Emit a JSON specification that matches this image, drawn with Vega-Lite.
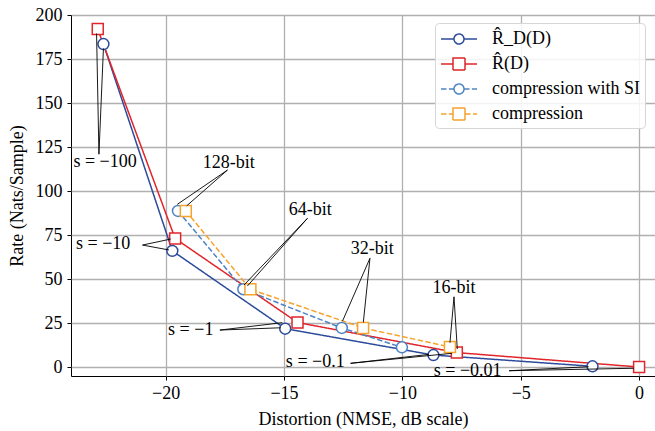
{
  "$schema": "https://vega.github.io/schema/vega-lite/v6.json",
  "width": 584,
  "height": 361,
  "autosize": {"type": "none"},
  "padding": {"left": 71, "top": 15, "right": 0, "bottom": 55},
  "background": "white",
  "datasets": {
    "series": [
      {"series": "R\u0302_D(D)", "marker": "circle", "dash": "solid", "i": 0, "x": -22.63, "y": 183.5},
      {"series": "R\u0302_D(D)", "marker": "circle", "dash": "solid", "i": 1, "x": -19.72, "y": 66.0},
      {"series": "R\u0302_D(D)", "marker": "circle", "dash": "solid", "i": 2, "x": -14.95, "y": 21.8},
      {"series": "R\u0302_D(D)", "marker": "circle", "dash": "solid", "i": 3, "x": -8.69, "y": 6.8},
      {"series": "R\u0302_D(D)", "marker": "circle", "dash": "solid", "i": 4, "x": -1.97, "y": 0.4},
      {"series": "R\u0302(D)", "marker": "square", "dash": "solid", "i": 0, "x": -22.87, "y": 192.0},
      {"series": "R\u0302(D)", "marker": "square", "dash": "solid", "i": 1, "x": -19.6, "y": 73.0},
      {"series": "R\u0302(D)", "marker": "square", "dash": "solid", "i": 2, "x": -14.43, "y": 25.3},
      {"series": "R\u0302(D)", "marker": "square", "dash": "solid", "i": 3, "x": -7.7, "y": 8.2},
      {"series": "R\u0302(D)", "marker": "square", "dash": "solid", "i": 4, "x": 0.0, "y": 0.0},
      {"series": "compression with SI", "marker": "circle", "dash": "dashed", "i": 0, "x": -19.48, "y": 88.7},
      {"series": "compression with SI", "marker": "circle", "dash": "dashed", "i": 1, "x": -16.72, "y": 44.2},
      {"series": "compression with SI", "marker": "circle", "dash": "dashed", "i": 2, "x": -12.56, "y": 22.2},
      {"series": "compression with SI", "marker": "circle", "dash": "dashed", "i": 3, "x": -10.02, "y": 11.2},
      {"series": "compression", "marker": "square", "dash": "dashed", "i": 0, "x": -19.15, "y": 88.7},
      {"series": "compression", "marker": "square", "dash": "dashed", "i": 1, "x": -16.42, "y": 44.2},
      {"series": "compression", "marker": "square", "dash": "dashed", "i": 2, "x": -11.66, "y": 22.2},
      {"series": "compression", "marker": "square", "dash": "dashed", "i": 3, "x": -7.99, "y": 11.4}
    ],
    "leaders": [
      {"x": -22.82, "y": 120.9, "x2": -22.92, "y2": 189.5},
      {"x": -22.82, "y": 120.9, "x2": -22.63, "y2": 181.0},
      {"x": -20.98, "y": 69.3, "x2": -19.79, "y2": 72.7},
      {"x": -20.98, "y": 69.3, "x2": -19.86, "y2": 66.5},
      {"x": -17.71, "y": 21.0, "x2": -15.07, "y2": 25.2},
      {"x": -17.71, "y": 21.0, "x2": -15.14, "y2": 22.3},
      {"x": -12.19, "y": 2.1, "x2": -8.87, "y2": 7.2},
      {"x": -12.19, "y": 2.1, "x2": -7.9, "y2": 7.8},
      {"x": -5.49, "y": -2.1, "x2": -2.13, "y2": 0.17},
      {"x": -5.49, "y": -2.1, "x2": -0.22, "y2": -0.7},
      {"x": -17.39, "y": 111.9, "x2": -19.51, "y2": 92.4},
      {"x": -17.39, "y": 111.9, "x2": -19.11, "y2": 91.6},
      {"x": -14.01, "y": 84.5, "x2": -16.69, "y2": 46.6},
      {"x": -14.01, "y": 84.5, "x2": -16.55, "y2": 46.0},
      {"x": -11.37, "y": 61.8, "x2": -12.53, "y2": 26.1},
      {"x": -11.37, "y": 61.8, "x2": -11.65, "y2": 25.4},
      {"x": -7.82, "y": 39.9, "x2": -7.99, "y2": 13.8},
      {"x": -7.82, "y": 39.9, "x2": -7.68, "y2": 10.2}
    ],
    "labels": [
      {"x": -22.56, "y": 116.6, "text": "s = \u2212100"},
      {"x": -22.64, "y": 69.7, "text": "s = \u221210"},
      {"x": -18.94, "y": 21.0, "text": "s = \u22121"},
      {"x": -13.68, "y": 2.6, "text": "s = \u22120.1"},
      {"x": -7.24, "y": -2.1, "text": "s = \u22120.01"},
      {"x": -17.34, "y": 115.7, "text": "128-bit"},
      {"x": -13.89, "y": 89.2, "text": "64-bit"},
      {"x": -11.27, "y": 67.0, "text": "32-bit"},
      {"x": -7.82, "y": 44.7, "text": "16-bit"}
    ]
  },
  "layer": [
    {
      "data": {"name": "series"},
      "mark": {"type": "line", "strokeWidth": 1.5, "clip": true},
      "encoding": {
        "x": {"field": "x", "type": "quantitative", "scale": {"domain": [-24, 0.672], "nice": false, "zero": false},
              "axis": {"values": [-20, -15, -10, -5, 0], "title": "Distortion (NMSE, dB scale)", "titlePadding": 8, "labelPadding": 4}},
        "y": {"field": "y", "type": "quantitative", "scale": {"domain": [-5.1, 200], "nice": false, "zero": false},
              "axis": {"values": [0, 25, 50, 75, 100, 125, 150, 175, 200], "title": "Rate (Nats/Sample)", "titlePadding": 9, "labelPadding": 5}},
        "color": {"field": "series", "type": "nominal",
                  "scale": {"domain": ["R\u0302_D(D)", "R\u0302(D)", "compression with SI", "compression"],
                            "range": ["#2c4b9b", "#e0262b", "#4d84c4", "#f5a32c"]},
                  "legend": {
                    "orient": "none", "legendX": 364, "legendY": 8, "title": null,
                    "fillColor": "rgba(255,255,255,0.85)", "strokeColor": "#d6d6d6", "cornerRadius": 4,
                    "padding": 5, "rowPadding": 5, "labelOffset": 30,
                    "labelFont": "Liberation Serif, DejaVu Serif, serif", "labelFontSize": 18, "labelColor": "black",
                    "symbolSize": 400, "symbolStrokeWidth": 1.5,
                    "encode": {"symbols": {"update": {
                      "shape": {"signal": "datum.index === 0 ? 'M-1,0H0.3M1.3,0H2.6M0.3,0A0.5,0.5,0,1,0,1.3,0A0.5,0.5,0,1,0,0.3,0Z' : datum.index === 1 ? 'M-1,0H0.2M1.4,0H2.6M0.2,-0.6H1.4V0.6H0.2Z' : datum.index === 2 ? 'M-1,0H-0.45M-0.21,0H0.3M1.3,0H1.85M2.09,0H2.6M0.3,0A0.5,0.5,0,1,0,1.3,0A0.5,0.5,0,1,0,0.3,0Z' : 'M-1,0H-0.45M-0.21,0H0.2M1.4,0H1.95M2.19,0H2.6M0.2,-0.6H1.4V0.6H0.2Z'"},
                      "fill": {"value": "white"}, "fillOpacity": {"value": 1},
                      "strokeDash": {"value": [1, 0]}, "strokeWidth": {"value": 1.5}, "size": {"value": 400}, "opacity": {"value": 1}
                    }}}
                  }},
        "strokeDash": {"field": "dash", "type": "nominal",
                       "scale": {"domain": ["solid", "dashed"], "range": [[1, 0], [5.5, 2.4]]},
                       "legend": null},
        "detail": {"field": "series"},
        "order": {"field": "i", "type": "quantitative"}
      }
    },
    {
      "data": {"name": "series"},
      "mark": {"type": "point", "filled": false, "fill": "white", "fillOpacity": 1, "strokeWidth": 1.5, "opacity": 1, "size": 120},
      "encoding": {
        "x": {"field": "x", "type": "quantitative"},
        "y": {"field": "y", "type": "quantitative"},
        "color": {"field": "series", "type": "nominal"},
        "shape": {"field": "marker", "type": "nominal",
                  "scale": {"domain": ["circle", "square"], "range": ["circle", "square"]},
                  "legend": null}
      }
    },
    {
      "data": {"name": "leaders"},
      "mark": {"type": "rule", "color": "black", "strokeWidth": 0.9},
      "encoding": {
        "x": {"field": "x", "type": "quantitative"},
        "y": {"field": "y", "type": "quantitative"},
        "x2": {"field": "x2"},
        "y2": {"field": "y2"}
      }
    },
    {
      "data": {"name": "labels"},
      "mark": {"type": "text", "font": "Liberation Serif, DejaVu Serif, serif", "fontSize": 18, "color": "black", "align": "center", "baseline": "middle"},
      "encoding": {
        "x": {"field": "x", "type": "quantitative"},
        "y": {"field": "y", "type": "quantitative"},
        "text": {"field": "text"}
      }
    }
  ],
  "config": {
    "view": {"stroke": "black", "strokeWidth": 1},
    "axis": {
      "labelFont": "Liberation Serif, DejaVu Serif, serif", "labelFontSize": 18, "labelColor": "black",
      "titleFont": "Liberation Serif, DejaVu Serif, serif", "titleFontSize": 18, "titleFontWeight": "normal", "titleColor": "black",
      "tickColor": "black", "tickSize": 4, "tickWidth": 1, "domain": false,
      "gridColor": "#b0b0b0", "gridWidth": 1.3
    }
  }
}
